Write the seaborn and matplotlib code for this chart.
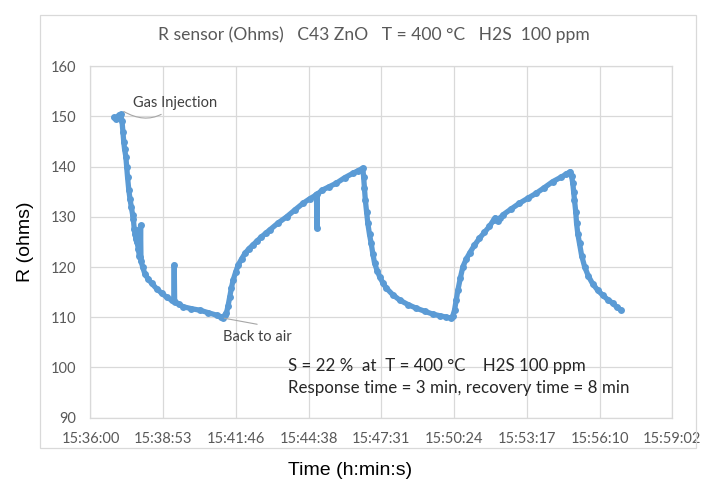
"""
Sensor resistance vs time, C43 ZnO at 400 °C under 100 ppm H2S.
"""

import matplotlib.pyplot as plt
import seaborn as sns
import pandas as pd
from matplotlib.patches import Rectangle

# seconds since 15:36:00
elapsed_s = [
    56, 60, 64, 68, 72, 75, 77, 79, 81, 84, 86, 88, 91, 94, 97, 100, 102, 104,
    106, 108, 109, 110, 112, 114, 116, 118, 119, 120, 124, 129, 137, 145, 157,
    169, 181, 193, 198, 199, 200, 210, 220, 240, 260, 280, 300, 310, 316,
    319, 323, 327, 331, 335, 339, 345, 351, 359, 367, 376, 386, 396, 406, 416,
    426, 446, 466, 486, 505, 521, 535, 537, 538, 539, 550, 567, 584, 604, 624,
    636, 647,
    649, 651, 653, 656, 659, 663, 667, 671, 675, 681, 687, 695, 703, 718, 735,
    755, 774, 794, 814, 830, 845, 857,
    861, 865, 869, 873, 879, 885, 893, 901, 912, 924, 936, 948, 958, 962, 968,
    974, 980, 1000, 1019, 1039, 1059, 1078, 1098, 1118, 1130, 1140,
    1143, 1146, 1148, 1150, 1153, 1155, 1158, 1162, 1167, 1174, 1183, 1193,
    1205, 1217, 1229, 1241, 1251, 1261,
]
resistance = [
    149.8, 149.5, 149.9, 150.2, 150.4, 149.0, 147.0, 145.0, 143.5, 142.0,
    140.0, 138.0, 135.4, 133.5, 132.0, 130.4, 129.5, 127.5, 126.5, 125.6,
    127.4, 125.0, 124.6, 123.5, 122.3, 122.0, 128.3, 121.3, 120.0, 118.7,
    117.6, 116.8, 115.7, 114.8, 114.0, 113.4, 113.2, 120.4, 113.1, 112.6,
    112.1, 111.7, 111.4, 110.9, 110.4, 110.1, 109.8,
    110.4, 110.8, 112.3, 114.1, 115.9, 117.4, 119.0, 120.4, 121.6, 122.7,
    123.6, 124.4, 125.2, 126.0, 126.7, 127.4, 128.8, 130.0, 131.4, 132.7,
    133.6, 134.3, 134.4, 127.8, 134.5, 135.3, 136.0, 136.7, 137.8, 138.7,
    139.2, 139.7,
    138.0, 135.8, 133.4, 131.0, 128.7, 126.5, 124.7, 122.6, 120.8, 119.3,
    118.1, 116.8, 115.8, 114.5, 113.4, 112.5, 111.8, 111.2, 110.6, 110.3,
    110.0, 109.8,
    110.3, 111.4, 113.4, 115.4, 117.9, 120.1, 121.6, 122.8, 124.3, 125.7,
    126.9, 128.1, 129.4, 129.8, 129.1, 129.8, 130.4, 131.6, 132.7, 133.7,
    134.7, 135.8, 137.0, 137.9, 138.5, 139.0,
    138.2, 136.7, 135.0, 133.4, 131.0, 128.7, 126.6, 124.7, 122.3, 120.1,
    118.2, 116.7, 115.4, 114.4, 113.5, 112.8, 112.0, 111.4,
]

# Excel date axis: major unit 0.002 day = 172.8 s
tick_s = [0, 172.8, 345.6, 518.4, 691.2, 864.0, 1036.8, 1209.6, 1382.4]
tick_labels = ['15:36:00', '15:38:53', '15:41:46', '15:44:38', '15:47:31',
               '15:50:24', '15:53:17', '15:56:10', '15:59:02']
y_ticks = [90, 100, 110, 120, 130, 140, 150, 160]

df = pd.DataFrame({'t': elapsed_s, 'R': resistance})

sns.set_theme(style='white')
plt.rcParams['font.family'] = ['Lato', 'DejaVu Sans']

BLUE = '#5B9BD5'
GRID = '#d9d9d9'
TXT = '#595959'

fig = plt.figure(figsize=(7.03, 4.86), dpi=100)
ax = fig.add_axes([0.1287, 0.1407, 0.9563 - 0.1287, 0.8636 - 0.1407])

sns.lineplot(data=df, x='t', y='R', ax=ax, sort=False, estimator=None,
             color=BLUE, linewidth=3.8, marker='o', markersize=5,
             markeredgewidth=0)

ax.set_xlim(0, 1382.4)
ax.set_ylim(90, 160)
ax.set_xticks(tick_s)
ax.set_xticklabels(tick_labels)
ax.set_yticks(y_ticks)
ax.tick_params(length=0, labelsize=10.5, labelcolor=TXT, pad=10)
ax.grid(True, color=GRID, linewidth=0.9)
for s in ax.spines.values():
    s.set_color(GRID)
    s.set_linewidth(0.9)
ax.set_xlabel('')
ax.set_ylabel('')

# annotations
ax.annotate('Gas Injection', xy=(79, 151.0), xytext=(101, 152.6),
            fontsize=10.5, color='#404040', va='center', ha='left',
            arrowprops=dict(arrowstyle='-', color='#a6a6a6', lw=0.8,
                            shrinkA=1, shrinkB=0,
                            connectionstyle='arc3,rad=-0.4'))
ax.annotate('', xy=(318, 109.8), xytext=(396, 108.6),
            arrowprops=dict(arrowstyle='-', color='#a6a6a6', lw=0.8,
                            shrinkA=0, shrinkB=0))
ax.text(314, 106.1, 'Back to air', fontsize=10.5, color='#404040',
        va='center', ha='left')
ax.text(470, 100.3, 'S = 22 %  at  T = 400 °C    H2S 100 ppm',
        fontsize=12.2, color='#262626', va='center', ha='left')
ax.text(470, 95.9, 'Response time = 3 min, recovery time = 8 min',
        fontsize=12.2, color='#262626', va='center', ha='left')

fig.text(374 / 703, 1 - 35 / 486,
         'R sensor (Ohms)   C43 ZnO   T = 400 °C   H2S  100 ppm',
         ha='center', va='center', fontsize=12.6, color=TXT)

# chart-area border
fig.patches.append(Rectangle((40 / 703, 1 - 448 / 486), 656 / 703, 433 / 486,
                             transform=fig.transFigure, fill=False,
                             edgecolor=GRID, linewidth=0.9))

fig.text(25 / 703, 1 - 242 / 486, 'R (ohms)', rotation=90, ha='center',
         va='center', fontsize=14, color='black', family='Liberation Sans')
fig.text(350 / 703, 1 - 470 / 486, 'Time (h:min:s)', ha='center',
         va='center', fontsize=14, color='black', family='Liberation Sans')

fig.savefig('out.png', dpi=100)
plt.close(fig)
